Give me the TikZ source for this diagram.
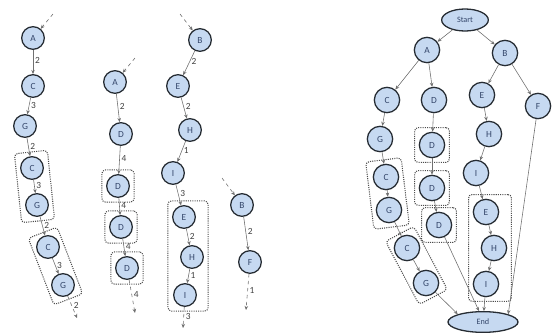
\documentclass[tikz,border=0pt]{standalone}
\usepackage{fontspec}
\setmainfont{Carlito}
\usetikzlibrary{arrows.meta,shapes.geometric,fit}

\definecolor{nodefill}{HTML}{C6D9F1}
\definecolor{nodeline}{HTML}{262C33}
\definecolor{nodetext}{HTML}{34466A}
\definecolor{flowgray}{HTML}{707070}

\tikzset{
  vtx/.style={circle, draw=nodeline, line width=1.1pt, fill=nodefill, minimum size=0.68cm, inner sep=0pt, font=\footnotesize, text=nodetext},
  bigvtx/.style={vtx, minimum size=0.76cm},
  term/.style={ellipse, draw=nodeline, line width=1.1pt, fill=nodefill, inner sep=0pt, font=\scriptsize, text=nodetext},
  flow/.style={draw=flowgray, line width=0.5pt, -{Stealth[length=3.5pt,width=3pt]}},
  inflow/.style={flow, dashed},
  lbl/.style={font=\footnotesize, text=black!75, inner sep=1.5pt, pos=0.45, right},
  grp/.style={draw=black!70, densely dotted, line width=0.9pt, rounded corners=3pt, inner sep=3.5pt},
}

\begin{document}
\begin{tikzpicture}[x=0.03cm, y=0.03cm]
  \useasboundingbox (0,0) rectangle (552,-333);

  % Chain 1
  \coordinate (in1) at (53,-14);
  \node[vtx] (a1) at (33,-38) {A};
  \node[vtx] (c1) at (33,-86) {C};
  \node[vtx] (g1) at (25,-126) {G};
  \node[vtx] (c2) at (32,-168) {C};
  \node[vtx] (g2) at (37,-205) {G};
  \node[vtx] (c3) at (48,-247) {C};
  \node[vtx] (g3) at (63,-285) {G};
  \coordinate (out1) at (77,-318);
  \node[grp, rotate fit=6, fit=(c2)(g2)] (box1) {};
  \node[grp, rotate fit=21, fit=(c3)(g3)] (box2) {};
  \draw[inflow] (in1) -- (a1);
  \draw[flow] (a1) -- node[lbl] {2} (c1);
  \draw[flow] (c1) -- node[lbl] {3} (g1);
  \draw[flow] (g1) -- node[lbl] {2} (c2);
  \draw[flow] (c2) -- node[lbl] {3} (g2);
  \draw[flow] (g2) -- node[lbl] {2} (c3);
  \draw[flow] (c3) -- node[lbl] {3} (g3);
  \draw[inflow] (g3) -- node[lbl] {2} (out1);

  % Chain 2
  \coordinate (in2) at (135,-58);
  \node[vtx] (a2) at (115,-82) {A};
  \node[vtx] (d1) at (121,-134) {D};
  \node[vtx] (d2) at (118,-186) {D};
  \node[vtx] (d3) at (121,-227) {D};
  \node[vtx] (d4) at (127,-268) {D};
  \coordinate (out2) at (135,-313);
  \node[grp, fit=(d2)] (box3) {};
  \node[grp, fit=(d3)] (box4) {};
  \node[grp, fit=(d4)] (box5) {};
  \draw[inflow] (in2) -- (a2);
  \draw[flow] (a2) -- node[lbl] {2} (d1);
  \draw[flow] (d1) -- node[lbl] {4} (d2);
  \draw[flow] (d2) -- node[lbl] {4} (d3);
  \draw[flow] (d3) -- node[lbl] {4} (d4);
  \draw[inflow] (d4) -- node[lbl] {4} (out2);

  % Chain 3
  \coordinate (in3) at (180,-14);
  \node[vtx] (b1) at (200,-40) {B};
  \node[vtx] (e1) at (178,-86) {E};
  \node[vtx] (h1) at (190,-130) {H};
  \node[vtx] (i1) at (173,-173) {I};
  \node[vtx] (e2) at (184,-217) {E};
  \node[vtx] (h2) at (192,-257) {H};
  \node[vtx] (i2) at (185,-295) {I};
  \coordinate (out3) at (183,-328);
  \node[grp, densely dotted, fit=(e2)(h2)(i2)] (box6) {};
  \draw[inflow] (in3) -- (b1);
  \draw[flow] (b1) -- node[lbl] {2} (e1);
  \draw[flow] (e1) -- node[lbl] {2} (h1);
  \draw[flow] (h1) -- node[lbl] {1} (i1);
  \draw[flow] (i1) -- node[lbl] {3} (e2);
  \draw[flow] (e2) -- node[lbl] {2} (h2);
  \draw[flow] (h2) -- node[lbl] {1} (i2);
  \draw[inflow] (i2) -- node[lbl] {3} (out3);

  % Chain 4
  \coordinate (in4) at (222,-178);
  \node[vtx] (b2) at (242,-205) {B};
  \node[vtx] (f1) at (250,-262) {F};
  \coordinate (out4) at (246,-310);
  \draw[inflow] (in4) -- (b2);
  \draw[flow] (b2) -- node[lbl] {2} (f1);
  \draw[inflow] (f1) -- node[lbl] {1} (out4);

  % Whole graph
  \node[term, minimum width=1.4cm, minimum height=0.66cm] (rs) at (465,-20) {Start};
  \node[bigvtx] (ra) at (427,-50) {A};
  \node[bigvtx] (rb) at (505,-53) {B};
  \node[bigvtx] (rc1) at (387,-100) {C};
  \node[bigvtx] (rd1) at (434,-100) {D};
  \node[bigvtx] (re1) at (482,-95) {E};
  \node[bigvtx] (rf) at (538,-106) {F};
  \node[bigvtx] (rg1) at (380,-139) {G};
  \node[bigvtx] (rd2) at (432,-145) {D};
  \node[bigvtx] (rh1) at (489,-134) {H};
  \node[bigvtx] (rc2) at (386,-177) {C};
  \node[bigvtx] (rd3) at (432,-188) {D};
  \node[bigvtx] (ri1) at (476,-173) {I};
  \node[bigvtx] (rg2) at (389,-210) {G};
  \node[bigvtx] (rd4) at (439,-225) {D};
  \node[bigvtx] (re2) at (486,-212) {E};
  \node[bigvtx] (rc3) at (407,-248) {C};
  \node[bigvtx] (rh2) at (494,-248) {H};
  \node[bigvtx] (rg3) at (426,-283) {G};
  \node[bigvtx] (ri2) at (486,-284) {I};
  \node[term, minimum width=2.1cm, minimum height=0.62cm] (rend) at (483,-322) {End};

  \node[grp, rotate fit=7, fit=(rc2)(rg2)] (rbox1) {};
  \node[grp, fit=(rd2)] (rbox2) {};
  \node[grp, fit=(rd3)] (rbox3) {};
  \node[grp, fit=(rd4)] (rbox4) {};
  \node[grp, fit=(re2)(rh2)(ri2)] (rbox5) {};
  \node[grp, rotate fit=28, fit=(rc3)(rg3)] (rbox6) {};

  \draw[flow] (rs) -- (ra);
  \draw[flow] (rs) -- (rb);
  \draw[flow] (ra) -- (rc1);
  \draw[flow] (ra) -- (rd1);
  \draw[flow] (rb) -- (re1);
  \draw[flow] (rb) -- (rf);
  \draw[flow] (rc1) -- (rg1);
  \draw[flow] (rd1) -- (rd2);
  \draw[flow] (re1) -- (rh1);
  \draw[flow] (rg1) -- (rc2);
  \draw[flow] (rd2) -- (rd3);
  \draw[flow] (rh1) -- (ri1);
  \draw[flow] (rc2) -- (rg2);
  \draw[flow] (rd3) -- (rd4);
  \draw[flow] (ri1) -- (re2);
  \draw[flow] (rg2) -- (rc3);
  \draw[flow] (re2) -- (rh2);
  \draw[flow] (rc3) -- (rg3);
  \draw[flow] (rh2) -- (ri2);
  \draw[flow] (rg3) -- (rend.north west);
  \draw[flow] (rd4) -- (rend.110);
  \draw[flow] (ri2) -- (rend);
  \draw[flow] (rf) -- (rend.north east);
\end{tikzpicture}
\end{document}
